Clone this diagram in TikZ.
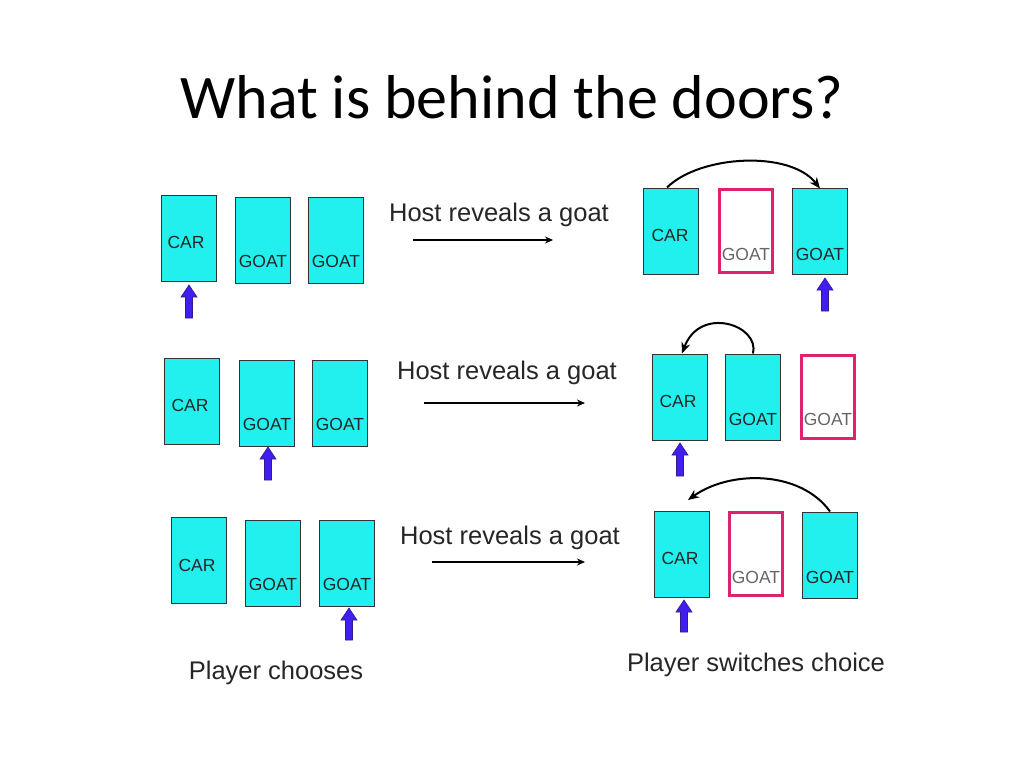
\documentclass[tikz,border=0pt]{standalone}
\usepackage{fontspec}
\setmainfont{Liberation Sans}
\newfontfamily\titlefont{Carlito}
\usetikzlibrary{arrows.meta}
\definecolor{doorc}{HTML}{22F0EE}
\definecolor{pinkc}{HTML}{E0226E}
\definecolor{purp}{HTML}{5B2BEA}
\tikzset{
  door/.style={draw=black!80,line width=1pt,fill=doorc,minimum width=55pt,minimum height=86pt,inner sep=0},
  opendoor/.style={draw=pinkc,line width=2.5pt,fill=white,minimum width=53pt,minimum height=83pt,inner sep=0},
  lbl/.style={font=\fontsize{17.5}{17.5}\selectfont,text=black!85},
  host/.style={font=\fontsize{25.5}{25.5}\selectfont,text=black!85},
  conn/.style={-{Stealth[length=8pt,width=7pt]},line width=1.4pt},
  curve/.style={-{Stealth[length=11pt,width=9pt]},line width=2pt},
}
\newcommand{\uparr}[3]{% x, ytop, ybot
  \fill[purp!70!blue,draw=purp!60!black,line width=0.6pt] (#1-3.5,#3)--(#1-3.5,#2+12)--(#1-8,#2+12)--(#1,#2)--(#1+8,#2+12)--(#1+3.5,#2+12)--(#1+3.5,#3)--cycle;}
\begin{document}
\begin{tikzpicture}[x=1pt,y=-1pt]
\useasboundingbox (0,0) rectangle (1024,768);
\node[font=\titlefont\fontsize{62}{62}\selectfont] (title) at (512,97) {What is behind the doors?};
% row 1 left
\node[door] (a1) at (189,238) {}; \node[lbl] at (186,242) {CAR};
\node[door] (a2) at (263,240) {}; \node[lbl] at (263,261) {GOAT};
\node[door] (a3) at (336,240) {}; \node[lbl] at (336,261) {GOAT};
\uparr{189}{285}{318}
\node[host] (h1) at (499,215) {Host reveals a goat};
\coordinate (l1a) at (413,240); \coordinate (l1b) at (553,240);
\draw[conn] (l1a) -- (l1b);
\node[door] (b1) at (671,231) {}; \node[lbl] at (670,235) {CAR};
\node[opendoor] (b2) at (746,231) {}; \node[lbl,text=black!60] at (746,254) {GOAT};
\node[door] (b3) at (820,231) {}; \node[lbl] at (820,254) {GOAT};
\uparr{825}{278}{311}
\draw[curve] ([xshift=-4pt]b1.north) .. controls (700,155) and (790,150) .. ([yshift=-1pt]b3.north);
% row 2 left
\node[door] (c1) at (192,401) {}; \node[lbl] at (190,405) {CAR};
\node[door] (c2) at (267,403) {}; \node[lbl] at (267,424) {GOAT};
\node[door] (c3) at (340,403) {}; \node[lbl] at (340,424) {GOAT};
\uparr{268}{447}{480}
\node[host] (h2) at (507,373) {Host reveals a goat};
\coordinate (l2a) at (424,403); \coordinate (l2b) at (585,403);
\draw[conn] (l2a) -- (l2b);
\node[door] (d1) at (680,397) {}; \node[lbl] at (678,401) {CAR};
\node[door] (d2) at (753,397) {}; \node[lbl] at (753,419) {GOAT};
\node[opendoor] (d3) at (828,397) {}; \node[lbl,text=black!60] at (828,419) {GOAT};
\uparr{680}{443}{476}
\draw[curve] (d2.north) .. controls (760,325) and (700,305) .. ([xshift=2pt]d1.north);
% row 3
\node[door] (e1) at (199,560) {}; \node[lbl] at (197,565) {CAR};
\node[door] (e2) at (273,563) {}; \node[lbl] at (273,584) {GOAT};
\node[door] (e3) at (347,563) {}; \node[lbl] at (347,584) {GOAT};
\uparr{349}{608}{640}
\node[host] (h3) at (510,538) {Host reveals a goat};
\coordinate (l3a) at (432,562); \coordinate (l3b) at (585,562);
\draw[conn] (l3a) -- (l3b);
\node[door] (f1) at (682,554) {}; \node[lbl] at (680,558) {CAR};
\node[opendoor] (f2) at (756,554) {}; \node[lbl,text=black!60] at (756,577) {GOAT};
\node[door] (f3) at (830,555) {}; \node[lbl] at (830,577) {GOAT};
\uparr{684}{600}{632}
\draw[curve] (f3.north) .. controls (800,470) and (730,470) .. (688,500);
\node[host] (p1) at (276,673) {Player chooses};
\node[host] (p2) at (756,665) {Player switches choice};
\end{tikzpicture}
\end{document}
